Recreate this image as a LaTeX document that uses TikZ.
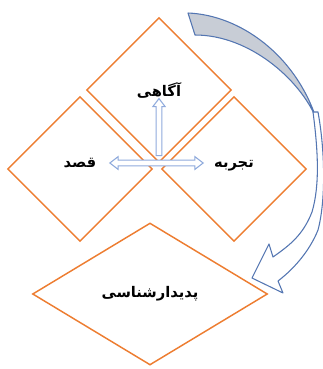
\documentclass[tikz,border=0pt]{standalone}
\usepackage{fontspec}
\newfontfamily\arabicfont[Script=Arabic]{DejaVu Sans}
\TeXXeTstate=1
\usetikzlibrary{shapes.geometric, shapes.arrows}
\definecolor{boxorange}{RGB}{237,125,49}
\definecolor{arrowblue}{RGB}{143,170,220}
\definecolor{curveblue}{RGB}{84,118,178}
\definecolor{curvegray}{RGB}{200,205,214}

\begin{document}
\begin{tikzpicture}[
    x=0.75pt, y=-0.75pt,
    facet/.style={diamond, draw=boxorange, line width=1.1pt, aspect=1, minimum width=108.75pt, minimum height=108.75pt, inner sep=0pt, font=\arabicfont\bfseries\fontsize{11}{13}\selectfont},
    lifted/.style={facet, text height=9pt, text depth=11pt},
    wide/.style={facet, minimum width=176.25pt, minimum height=106.5pt},
    hbar/.style={double arrow, draw=arrowblue, fill=white, line width=0.8pt, inner sep=1.8pt, minimum height=70pt, double arrow head extend=2.6pt, double arrow tip angle=75},
    vbar/.style={single arrow, draw=arrowblue, fill=white, line width=0.8pt, inner sep=1.8pt, minimum height=42.75pt, single arrow head extend=2.4pt, single arrow tip angle=75, shape border rotate=90},
    ribbon/.style={draw=curveblue, line width=0.8pt, line join=round}
]
\useasboundingbox (0,0) rectangle (323,369);

\node[facet] (awareness) at (159,90) {\beginR آگاهی\endR};
\node[lifted] (intent) at (80,169) {\beginR قصد\endR};
\node[lifted] (experience) at (234,169) {\beginR تجربه\endR};
\node[wide] (phenom) at (150,294) {\beginR پدیدارشناسی\endR};

\node[vbar] (rise) at (159,129) {};
\node[hbar] (spread) at (156.5,163) {};

\draw[ribbon, fill=curvegray] (188,13) .. controls (240,15) and (295,55) .. (316,118)
    .. controls (300,80) and (250,35) .. (195,35) -- cycle;
\draw[ribbon, fill=white] (313,112) .. controls (318,150) and (320,185) .. (312,212)
    .. controls (303,235) and (290,245) .. (273,257) -- (269,244) -- (252,278) -- (283,293) -- (278,281)
    .. controls (295,268) and (310,250) .. (318,230) .. controls (326,200) and (325,150) .. (318,112) -- cycle;
\end{tikzpicture}
\end{document}
